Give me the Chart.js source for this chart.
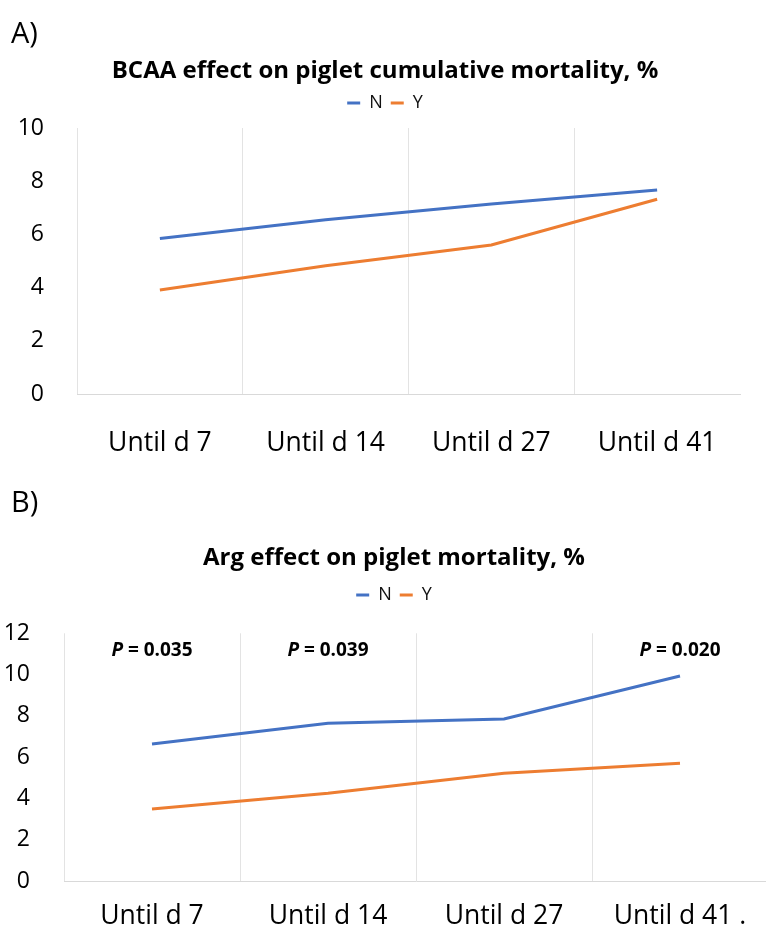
<!DOCTYPE html>
<html>
<head>
<meta charset="utf-8">
<script src="https://cdn.jsdelivr.net/npm/chart.js@4.4.1/dist/chart.umd.min.js"></script>
<style>
  html, body { margin: 0; padding: 0; background: #fff; overflow: hidden; }
  body { width: 766px; height: 927px; position: relative; font-family: "Open Sans", sans-serif; }
  .panel-tag { position: absolute; left: 11px; font-size: 29px; line-height: 1; color: #000; z-index: 2; }
  .chart-box { position: absolute; left: 0; }
</style>
</head>
<body>
<div class="panel-tag" style="top:17px">A)</div>
<div class="chart-box" style="top:0;width:770px;height:470px"><canvas id="bcaa-chart"></canvas></div>
<div class="panel-tag" style="top:486px">B)</div>
<div class="chart-box" style="top:460px;width:788px;height:467px"><canvas id="arg-chart"></canvas></div>
<script>
// A) BCAA
const bcaaPeriods = ['Until d 7', 'Until d 14', 'Until d 27', 'Until d 41'];
const bcaaNo = [5.85, 6.55, 7.14, 7.67];
const bcaaYes = [3.91, 4.82, 5.6, 7.32];

// B) Arg
const argPeriods = ['Until d 7', 'Until d 14', 'Until d 27', 'Until d 41 .'];
const argNo = [6.64, 7.64, 7.85, 9.93];
const argYes = [3.49, 4.25, 5.22, 5.7];
const argPValues = ['0.035', '0.039', '', '0.020'];

const FONT = '"Open Sans", sans-serif';
const BLUE = '#4472C4';
const ORANGE = '#ED7D31';
const P_LABEL_LEVEL = 11.15; // y value where the P labels sit

function makeDatasets(noValues, yesValues) {
  const line = (label, data, color) => ({
    label,
    data,
    borderColor: color,
    backgroundColor: color,
    borderWidth: 3,
    pointRadius: 0,
    pointHoverRadius: 0,
    pointStyle: 'line',
    tension: 0
  });
  return [line('N', noValues, BLUE), line('Y', yesValues, ORANGE)];
}

// writes "P = x" over the categories, P in italics
const pValuePlugin = {
  id: 'pValues',
  afterDatasetsDraw(chart) {
    const { ctx, scales: { x, y } } = chart;
    const boldFont = `bold 19px ${FONT}`;
    const italicFont = `italic bold 19px ${FONT}`;
    ctx.save();
    ctx.fillStyle = '#000';
    ctx.textAlign = 'left';
    ctx.textBaseline = 'middle';
    argPValues.forEach((p, i) => {
      if (!p) return;
      const tail = ` = ${p}`;
      ctx.font = italicFont;
      const headW = ctx.measureText('P').width;
      ctx.font = boldFont;
      const tailW = ctx.measureText(tail).width;
      const left = x.getPixelForValue(i) - (headW + tailW) / 2;
      const cy = y.getPixelForValue(P_LABEL_LEVEL);
      ctx.font = italicFont;
      ctx.fillText('P', left, cy);
      ctx.font = boldFont;
      ctx.fillText(tail, left + headW, cy);
    });
    ctx.restore();
  }
};

function buildMortalityChart(canvasId, setup) {
  const canvas = document.getElementById(canvasId);
  const chart = new Chart(canvas, {
    type: 'line',
    data: { labels: setup.labels, datasets: makeDatasets(setup.noValues, setup.yesValues) },
    options: {
      responsive: true,
      maintainAspectRatio: false,
      animation: false,
      layout: { padding: { top: setup.topPad, left: 0, right: 0, bottom: 0 } },
      plugins: {
        title: {
          display: true,
          text: setup.title,
          color: '#000',
          font: { family: FONT, size: 24, weight: 'bold' },
          padding: { top: 0, bottom: setup.titleGap }
        },
        // empty spacer between legend and plot
        subtitle: {
          display: true,
          text: '',
          weight: 500,
          font: { size: 1 },
          padding: { top: setup.legendGap, bottom: 0 }
        },
        legend: {
          display: true,
          position: 'top',
          labels: {
            usePointStyle: true,
            pointStyleWidth: 13,
            color: '#111',
            font: { family: FONT, size: 18 },
            padding: 8
          }
        },
        tooltip: { enabled: false }
      },
      scales: {
        x: {
          offset: true,
          grid: {
            offset: true,
            drawTicks: false,
            color: (ctx) => (ctx.type === 'tick' ? '#e3e3e3' : 'rgba(0,0,0,0)'),
            lineWidth: 1
          },
          border: { display: true, color: '#d9d9d9' },
          ticks: {
            color: '#000',
            font: { family: FONT, size: 26.5 },
            padding: setup.xPad,
            maxRotation: 0,
            autoSkip: false
          },
          afterFit: (scale) => {
            scale.height = setup.xHeight;
            scale.paddingRight = setup.rightGap;
          }
        },
        y: {
          min: 0,
          max: setup.yMax,
          grid: { display: false },
          border: { display: false },
          ticks: {
            stepSize: 2,
            color: '#000',
            font: { family: FONT, size: 23 },
            padding: setup.yPad
          },
          afterFit: (scale) => {
            scale.width = setup.yWidth;
          }
        }
      }
    },
    plugins: setup.plugins || []
  });
  return chart;
}

buildMortalityChart('bcaa-chart', {
  title: 'BCAA effect on piglet cumulative mortality, %',
  labels: bcaaPeriods,
  noValues: bcaaNo,
  yesValues: bcaaYes,
  yMax: 10,
  topPad: 57.2,
  titleGap: 0,
  legendGap: 4.8,
  rightGap: 30,
  xHeight: 76,
  xPad: 33.6,
  yWidth: 77,
  yPad: 25
});

buildMortalityChart('arg-chart', {
  title: 'Arg effect on piglet mortality, %',
  labels: argPeriods,
  noValues: argNo,
  yesValues: argYes,
  yMax: 12,
  topPad: 83.6,
  titleGap: 5.6,
  legendGap: 18.1,
  rightGap: 20,
  xHeight: 46,
  xPad: 19.1,
  yWidth: 64,
  yPad: 26,
  plugins: [pValuePlugin]
});
</script>
</body>
</html>
